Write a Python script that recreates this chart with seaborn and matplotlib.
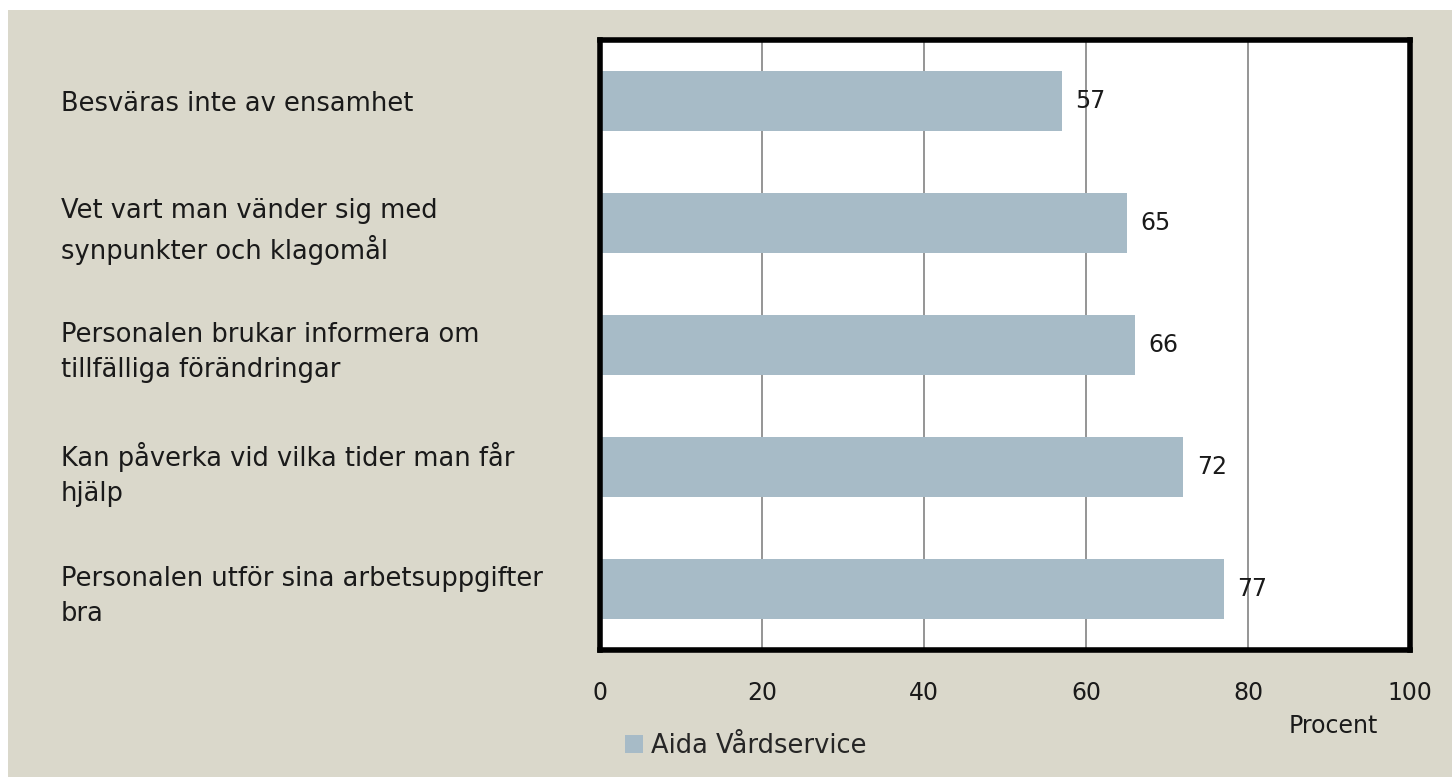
import matplotlib.pyplot as plt
import seaborn as sns
import pandas as pd

categories = [
    'Besväras inte av ensamhet',
    'Vet vart man vänder sig med\nsynpunkter och klagomål',
    'Personalen brukar informera om\ntillfälliga förändringar',
    'Kan påverka vid vilka tider man får\nhjälp',
    'Personalen utför sina arbetsuppgifter\nbra',
]
values = [57, 65, 66, 72, 77]
series_name = 'Aida Vårdservice'
x_ticks = [0, 20, 40, 60, 80, 100]

BG = '#DAD8CB'
BAR = '#A7BBC7'
TXT = '#1a1a1a'

sns.set_theme(style='white')
plt.rcParams['font.family'] = ['DejaVu Sans']

df = pd.DataFrame({'Fråga': categories, 'Procent': values, 'Enhet': series_name})

fig = plt.figure(figsize=(14.52, 7.77), dpi=100)
fig.patch.set_facecolor('white')
# beige panel (white strip on top and left like the source)
fig.patches.append(plt.Rectangle((8 / 1452, 0), 1, 1 - 10 / 777, transform=fig.transFigure,
                                 facecolor=BG, edgecolor='none', zorder=-1))

ax = fig.add_axes([600 / 1452, 1 - 650 / 777, 810 / 1452, 610 / 777])
sns.barplot(data=df, y='Fråga', x='Procent', hue='Enhet', palette=[BAR],
            width=0.49, ax=ax, saturation=1, legend=True, linewidth=0)

ax.set_xlim(0, 100)
ax.set_xticks(x_ticks)
ax.xaxis.grid(True, color='#8C8C8C', linewidth=1.3)
ax.set_axisbelow(True)
for s in ax.spines.values():
    s.set_linewidth(4)
    s.set_color('black')

ax.tick_params(axis='x', length=0, pad=22, labelsize=17, colors=TXT)
ax.tick_params(axis='y', length=0, pad=388, labelsize=18.5, colors=TXT)
for lab in ax.get_yticklabels():
    lab.set_horizontalalignment('left')
    lab.set_linespacing(1.45)

ax.set_ylabel('')
ax.set_xlabel('Procent', fontsize=17, color=TXT)
ax.xaxis.set_label_coords(0.905, -0.105)

for c in ax.containers:
    ax.bar_label(c, padding=10, fontsize=17, color=TXT)

leg = ax.legend(loc='center', bbox_to_anchor=(0.18, -0.157), frameon=False,
                fontsize=18.5, handlelength=0.7, handleheight=0.7, handletextpad=0.3)
for h in leg.legend_handles:
    h.set_linewidth(0)

fig.savefig('out.png', dpi=100, facecolor=fig.get_facecolor())
